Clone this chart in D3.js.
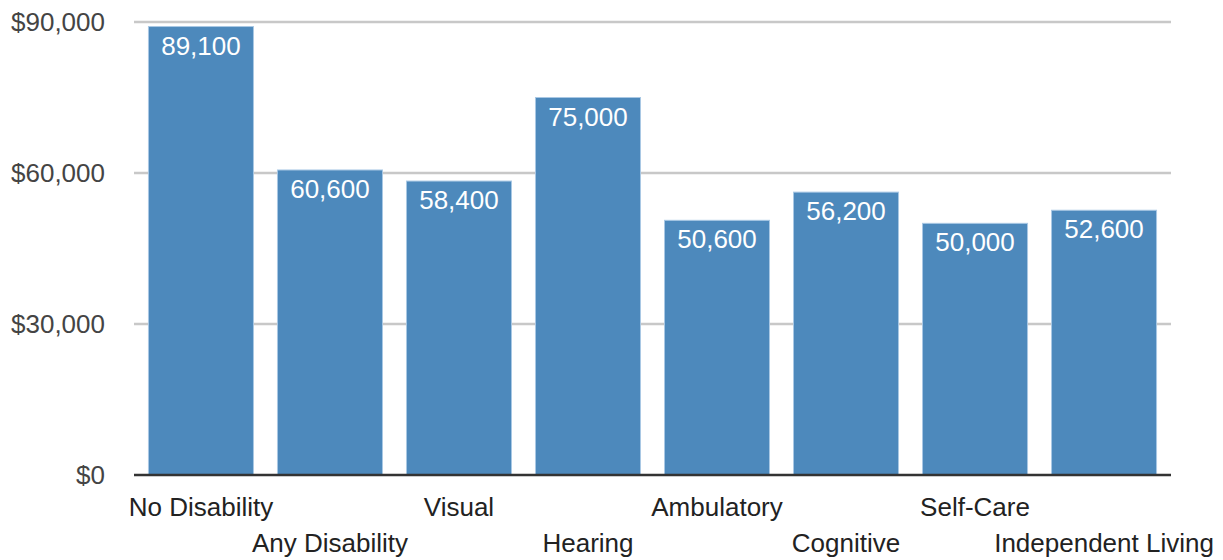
<!DOCTYPE html>
<html>
  <head>
    <script src="https://cdn.jsdelivr.net/npm/d3@7"></script>
    <style>
      body { margin: 0; background: #fff; font-family: "Liberation Sans", Arial, sans-serif; }
    </style>
  </head>
  <body>
    <svg id="chart" width="1223" height="560"></svg>
    <script>
      var categories = ["No Disability", "Any Disability", "Visual", "Hearing",
        "Ambulatory", "Cognitive", "Self-Care", "Independent Living"];
      var earnings = [89100, 60600, 58400, 75000, 50600, 56200, 50000, 52600];
      var yTicks = [0, 30000, 60000, 90000];

      var svg = d3.select("#chart");
      var plotLeft = 134, plotRight = 1171, plotTop = 22, plotBottom = 475;

      var x = d3.scaleBand()
        .domain(categories)
        .range([plotLeft, plotRight])
        .paddingInner(0.186)
        .paddingOuter(0.112);

      var y = d3.scaleLinear().domain([0, 90000]).range([plotBottom, plotTop]);

      // gridlines
      svg.append("g")
        .selectAll("line")
        .data(yTicks.filter(d => d > 0))
        .enter()
        .append("line")
        .attr("x1", plotLeft)
        .attr("x2", plotRight)
        .attr("y1", d => y(d))
        .attr("y2", d => y(d))
        .attr("stroke", "#c8c8c8")
        .attr("stroke-width", 2.5);

      // y tick labels
      svg.append("g")
        .selectAll("text")
        .data(yTicks)
        .enter()
        .append("text")
        .attr("x", 105)
        .attr("y", d => y(d))
        .attr("dy", "0.35em")
        .attr("text-anchor", "end")
        .style("font-size", "26px")
        .style("fill", "#444")
        .text(d => "$" + d3.format(",")(d));

      // bars
      var data = categories.map((c, i) => ({ name: c, value: earnings[i] }));

      svg.append("g")
        .selectAll("rect")
        .data(data)
        .enter()
        .append("rect")
        .attr("x", d => x(d.name))
        .attr("y", d => y(d.value))
        .attr("width", x.bandwidth())
        .attr("height", d => plotBottom - y(d.value))
        .attr("fill", "#4d89bc")
        .attr("stroke", "#a9c8e4")
        .attr("stroke-width", 1);

      svg.append("g")
        .selectAll("text")
        .data(data)
        .enter()
        .append("text")
        .attr("x", d => x(d.name) + x.bandwidth() / 2)
        .attr("y", d => y(d.value) + 28)
        .attr("text-anchor", "middle")
        .style("font-size", "26px")
        .style("fill", "#fff")
        .text(d => d3.format(",")(d.value));

      // baseline
      svg.append("line")
        .attr("x1", plotLeft)
        .attr("x2", plotRight)
        .attr("y1", plotBottom)
        .attr("y2", plotBottom)
        .attr("stroke", "#333")
        .attr("stroke-width", 2.5);

      // category labels, staggered on two rows
      svg.append("g")
        .selectAll("text")
        .data(categories)
        .enter()
        .append("text")
        .attr("x", d => x(d) + x.bandwidth() / 2)
        .attr("y", (d, i) => (i % 2 === 0 ? 507 : 543))
        .attr("dy", "0.35em")
        .attr("text-anchor", "middle")
        .style("font-size", "26px")
        .style("fill", "#222")
        .text(d => d);
    </script>
  </body>
</html>
